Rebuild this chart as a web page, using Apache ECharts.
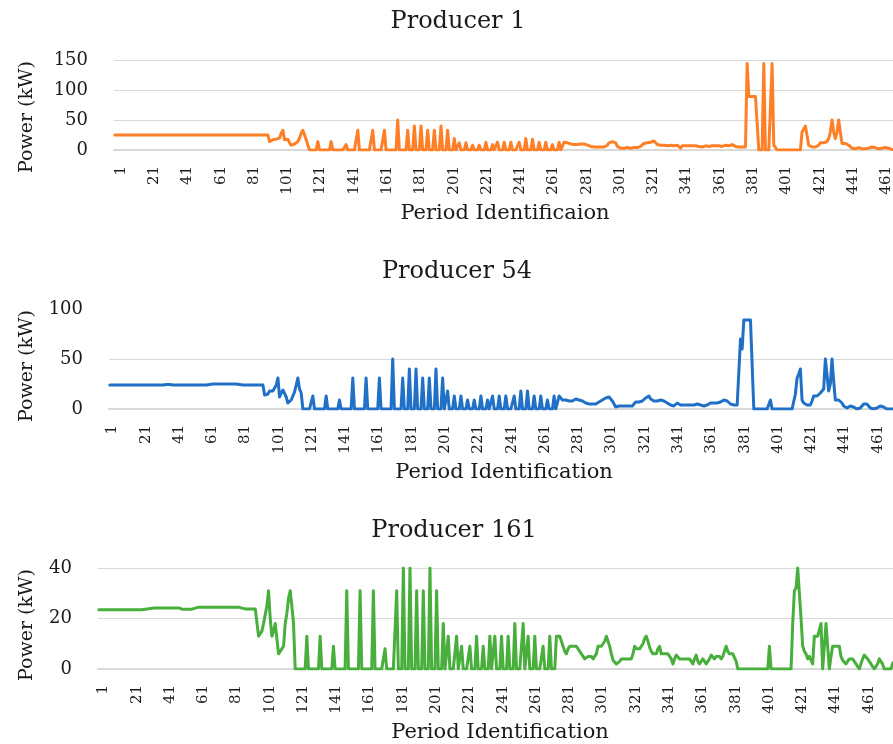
<!DOCTYPE html>
<html>
<head>
<meta charset="utf-8">
<script src="https://cdn.jsdelivr.net/npm/echarts@6/dist/echarts.min.js"></script>
<style>
  html, body { margin: 0; padding: 0; background: #ffffff; width: 893px; height: 744px; overflow: hidden; }
  /* The period axis runs on past the right edge of the view, so the canvas is wider than the page */
  #chart { width: 920px; height: 744px; }
</style>
</head>
<body>
<div id="chart"></div>
<script>
// Period identifiers 1..480 (category axis)
const periods = [];
for (let i = 1; i <= 480; i++) periods.push(String(i));

// Power output per period, kW (rows of 20 periods)
const producer1 = [
  25,25,25,25,25,25,25,25,25,25,25,25,25,25,25,25,25,25,25,25,
  25,25,25,25,25,25,25,25,25,25,25,25,25,25,25,25,25,25,25,25,
  25,25,25,25,25,25,25,25,25,25,25,25,25,25,25,25,25,25,25,25,
  25,25,25,25,25,25,25,25,25,25,25,25,25,25,25,25,25,25,25,25,
  25,25,25,25,25,25,25,25,25,25,25,25,25,14,14,17,18,18,18,20,
  28,33,17,19,18,12,8,9,10,11,14,20,28,33,25,17,8,0,0,0,
  0,0,14,0,0,0,0,0,0,0,14,0,0,0,0,0,0,0,0,9,
  0,0,0,0,0,0,33,0,0,0,0,0,0,0,0,33,0,0,0,0,
  0,0,33,0,0,0,0,0,0,0,50,0,0,0,0,0,33,0,0,0,
  40,0,0,0,40,0,0,0,33,0,0,0,33,0,0,0,40,0,0,0,
  33,0,0,0,19,0,0,12,0,0,0,12,0,0,0,8,0,0,0,8,
  0,0,0,13,0,0,0,9,0,0,13,0,0,0,13,0,0,0,13,0,
  0,0,0,13,0,0,0,19,0,0,0,18,0,0,0,13,0,0,0,13,
  0,0,0,9,0,0,0,13,0,0,13,12,12,11,10,9,9,9,9,9,
  10,10,10,9,8,7,6,5,5,5,5,5,5,5,5,5,8,12,14,14,
  14,12,6,3,3,4,3,3,4,4,3,3,4,4,4,5,6,8,11,11,
  12,12,13,14,15,12,9,8,8,9,8,8,7,8,8,8,7,7,8,6,
  3,7,7,7,7,7,6,7,7,7,7,6,6,5,6,7,7,6,7,7,
  6,7,8,7,7,6,7,8,8,7,8,9,8,6,5,5,5,5,5,5,
  144,89,89,89,89,89,89,0,0,0,144,0,0,0,0,144,8,8,0,0,
  0,0,0,0,0,0,0,0,0,0,0,0,0,30,33,40,40,8,5,5,
  5,5,5,8,12,12,12,12,14,19,30,50,30,19,30,50,30,11,11,11,
  11,8,5,3,1,2,5,4,3,2,2,2,3,3,3,5,5,4,3,2,
  2,3,3,4,4,3,1,1,2,1,1,1,1,1,1,1,1,1,1,1
];

const producer54 = [
  24,24,24,24,24,24,24,24,24,24,24,24,24,24,24,24,24,24,24,24,
  24,24,24,24,24,24,24,24,24,24,24,24,24,24,24.5,25,24.5,24,24,24,
  24,24,24,24,24,24,24,24,24,24,24,24,24,24,24,24,24,24,24,24,
  24.5,25,25,25,25,25,25,25,25,25,25,25,25,25,25,25,25,25,24.5,24,
  24,24,24,24,24,24,24,24,24,24,24,24,24,14,12,15,18,18,18,18,
  24,31,12,16,19,18,12,6,7,9,10,17,24,31,20,16,0,0,0,0,
  0,0,13,0,0,0,0,0,0,0,13,0,0,0,0,0,0,0,9,0,
  0,0,0,0,0,0,31,0,0,0,0,0,0,0,31,0,0,0,0,0,
  0,0,31,0,0,0,0,0,0,0,50,0,0,0,0,0,31,0,0,0,
  40,0,0,0,40,0,0,0,31,0,0,0,31,0,0,0,40,0,0,0,
  31,0,0,18,0,0,0,13,0,0,0,13,0,0,0,9,0,0,0,9,
  0,0,0,13,0,0,0,9,0,0,13,0,0,0,13,0,0,0,13,0,
  0,0,0,13,0,0,0,18,0,0,0,18,0,0,0,13,0,0,0,13,
  0,0,0,9,0,0,0,13,0,0,13,11,9,9,9,7,8,8,8,9,
  10,10,9,8,8,7,6,5,5,5,5,5,5,5,7,8,9,10,11,12,
  12,10,8,5,2,2,3,3,3,3,3,3,3,3,3,5,7,9,7,6,
  8,10,11,13,13,10,8,8,8,8,9,9,9,8,7,6,5,4,3,3,
  4,6,5,4,4,4,4,4,4,4,4,4,4,5,6,4,3,3,4,4,
  5,6,6,6,6,6,6,7,8,9,9,8,6,5,4,4,4,4,4,70,
  60,89,89,89,89,89,89,0,0,0,0,0,0,0,0,0,0,9,0,0,
  0,0,0,0,0,0,0,0,0,0,0,0,15,31,35,40,9,6,5,4,
  4,4,8,13,13,13,13,16,18,20,50,34,18,25,50,28,9,9,9,9,
  6,3,1,1,2,3,3,2,1,0,0,1,3,5,6,5,3,1,0,0,
  0,1,2,3,4,2,0,0,0,0,0,0,0,0,0,0,0,0,0,0
];

const producer161 = [
  23.5,23.5,23.5,23.5,23.5,23.5,23.5,23.5,23.5,23.5,23.5,23.5,23.5,23.5,23.5,23.5,23.5,23.5,23.5,23.5,
  23.5,23.5,23.5,23.5,23.5,23.5,23.5,23.6,23.7,23.8,23.9,24,24.1,24.2,24.2,24.2,24.2,24.2,24.2,24.2,
  24.2,24.2,24.2,24.2,24.2,24.2,24.2,24.2,24.2,24.2,23.7,23.7,23.7,23.7,23.7,23.7,23.7,23.7,24.1,24.5,
  24.5,24.5,24.5,24.5,24.5,24.5,24.5,24.5,24.5,24.5,24.5,24.5,24.5,24.5,24.5,24.5,24.5,24.5,24.5,24.5,
  24.5,24.5,24.5,24.5,24.5,24.5,24.1,23.8,23.8,23.8,23.8,23.8,23.8,23.8,23.8,23.8,13,13,15,18,
  18,25,31,20,13,15,18,12,6,6,8,9,18,22,28,31,25,18,0,0,
  0,0,0,0,0,13,0,0,0,0,0,0,0,13,0,0,0,0,0,0,
  0,9,0,0,0,0,0,0,0,31,0,0,0,0,0,0,0,31,0,0,
  0,0,0,0,0,31,0,0,0,0,0,0,8,0,0,0,0,0,0,31,
  0,0,0,40,0,0,0,40,0,0,0,31,0,0,0,31,0,0,0,40,
  0,0,0,31,0,0,0,18,0,0,13,0,0,0,0,13,0,0,9,0,
  0,0,0,9,0,0,0,13,0,0,0,9,0,0,0,13,0,0,13,0,
  0,0,13,0,0,0,13,0,0,0,18,0,0,0,0,18,0,0,13,0,
  0,0,13,0,0,0,0,9,0,0,0,13,0,0,0,13,13,13,11,9,
  7,6,8,9,9,9,9,9,9,7,6,5,4,4,5,5.5,5,4,3.5,6,
  9,9,9,9,11,13,11,9,6,3.5,3,2,2,3,4,4,4,4,4,4,
  4,6,9,8,7.5,8,8.6,10,12,13,11,8.6,7,6,6,6,8,9,6,6,
  6,6,6,6,4,2,4,5.5,5,4,4,4,4,4,4,4,3,2,4,5.5,
  3,2,3,4,3,2,3,4,5.5,5,4,5,5.5,5,4,5,7,9,7,6,
  6,6,5.5,3,0,0,0,0,0,0,0,0,0,0,0,0,0,0,0,0,
  0,0,0,9,0,0,0,0,0,0,0,0,0,0,0,0,0,18,31,32,
  40,40,20,9,7,6,4,5,5,2,13,13,13,13,18,0,0,18,18,0,
  5,9,9,9,9,9,5,3.5,3,2,3,4,4,4,3,2,1.5,0,2,4,
  5.5,5,4,3,2,1,0,0,2,4,4,2,0,0,0,0,0,2,3,3
];

const panelTitles = ['Producer 1', 'Producer 54', 'Producer 161'];
const periodAxisNames = ['Period Identificaion', 'Period Identification', 'Period Identification'];
const powerAxisName = 'Power (kW)';
const powerMax = [150, 100, 40];
const powerStep = [50, 50, 20];
const seriesData = [producer1, producer54, producer161];

// Layout of the three stacked panels (labelLine sets how far the period labels sit right of their tick)
const panels = [
  { left: 114, top: 60,  height: 90,  color: '#FF7F27', titleX: 458, titleY: 22,  xNameX: 505, xNameY: 214, yNameY: 117, labelLine: 12, gridTopLine: true },
  { left: 109, top: 309, height: 100, color: '#1F70C6', titleX: 457, titleY: 272, xNameX: 504, xNameY: 473, yNameY: 366, labelLine: 5,  gridTopLine: false },
  { left: 98,  top: 568, height: 101, color: '#48AE3C', titleX: 454, titleY: 531, xNameX: 500, xNameY: 733, yNameY: 625, labelLine: 9,  gridTopLine: true }
];
const stepPx = 1.664;
const FONT = '"DejaVu Serif", serif';
const TEXT = '#1a1a1a';

const grid = [], xAxis = [], yAxis = [], series = [], graphic = [];
panels.forEach((p, i) => {
  grid.push({ left: p.left, top: p.top, height: p.height, width: periods.length * stepPx, containLabel: false });
  xAxis.push({
    type: 'category', gridIndex: i, data: periods, boundaryGap: true,
    axisLine: { show: true, lineStyle: { color: '#d9d9d9', width: 2 } },
    axisTick: { show: false },
    axisLabel: {
      interval: 19, rotate: 90, margin: 16, verticalAlign: 'top', lineHeight: p.labelLine,
      fontFamily: FONT, fontSize: 15, color: TEXT
    }
  });
  yAxis.push({
    type: 'value', gridIndex: i, min: 0, max: powerMax[i], interval: powerStep[i],
    axisLine: { show: false }, axisTick: { show: false },
    splitLine: { show: true, showMaxLine: p.gridTopLine, lineStyle: { color: '#d9d9d9', width: 1 } },
    axisLabel: { margin: 26, fontFamily: FONT, fontSize: 18, color: TEXT }
  });
  series.push({
    type: 'line', xAxisIndex: i, yAxisIndex: i, data: seriesData[i],
    showSymbol: false, symbol: 'none', animation: false,
    lineStyle: { color: p.color, width: 3, join: 'round', cap: 'round' }
  });
  graphic.push({
    type: 'text', x: p.titleX, y: p.titleY,
    style: { text: panelTitles[i], font: '24px ' + FONT, fill: TEXT, textAlign: 'center', textVerticalAlign: 'middle' }
  });
  graphic.push({
    type: 'text', x: p.xNameX, y: p.xNameY,
    style: { text: periodAxisNames[i], font: '21px ' + FONT, fill: TEXT, textAlign: 'center', textVerticalAlign: 'middle' }
  });
  graphic.push({
    type: 'text', x: 27, y: p.yNameY, rotation: Math.PI / 2,
    style: { text: powerAxisName, font: '19px ' + FONT, fill: TEXT, textAlign: 'center', textVerticalAlign: 'middle' }
  });
});

const chart = echarts.init(document.getElementById('chart'), null, { renderer: 'canvas' });
chart.setOption({
  animation: false,
  backgroundColor: '#ffffff',
  grid, xAxis, yAxis, series, graphic
});
</script>
</body>
</html>
